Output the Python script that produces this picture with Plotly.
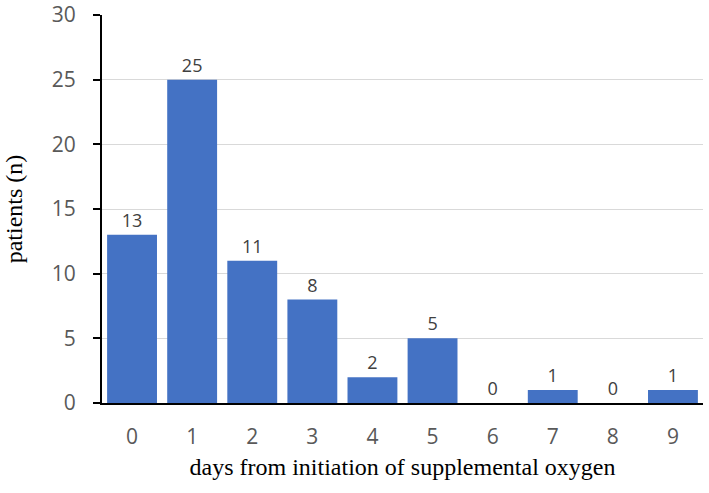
import plotly.graph_objects as go

days = ["0", "1", "2", "3", "4", "5", "6", "7", "8", "9"]
patients = [13, 25, 11, 8, 2, 5, 0, 1, 0, 1]
y_ticks = [0, 5, 10, 15, 20, 25, 30]

SANS = "Open Sans, Liberation Sans, sans-serif"
SERIF = "Liberation Serif, Times New Roman, serif"

fig = go.Figure(go.Bar(
    x=days, y=patients,
    marker=dict(color="#4472C4", line=dict(width=0)),
    text=[str(v) for v in patients],
    textposition="outside",
    textfont=dict(family=SANS, size=18, color="#404040"),
    cliponaxis=False,
))

fig.update_layout(
    width=709, height=493,
    margin=dict(l=102, r=6, t=15, b=90),
    plot_bgcolor="white", paper_bgcolor="white",
    bargap=0.17,
    showlegend=False,
    xaxis=dict(
        type="category", automargin=False,
        showline=True, linecolor="black", linewidth=2,
        ticks="", showgrid=False,
        tickfont=dict(family=SANS, size=21, color="#595959"),
        ticklabelstandoff=14,
        title=dict(text="days from initiation of supplemental oxygen",
                   font=dict(family=SERIF, size=24, color="black"),
                   standoff=9),
    ),
    yaxis=dict(
        range=[0, 30], tickvals=y_ticks, automargin=False,
        showline=True, linecolor="black", linewidth=2,
        ticks="outside", ticklen=7, tickwidth=2, tickcolor="black",
        showgrid=True, gridcolor="#D9D9D9", gridwidth=1,
        zeroline=False,
        tickfont=dict(family=SANS, size=21, color="#595959"),
        ticklabelstandoff=13,
        title=dict(text="patients (n)",
                   font=dict(family=SERIF, size=24, color="black"),
                   standoff=22),
    ),
)

fig.write_html("out.html",
               config={"displayModeBar": False},
               post_script="document.body.style.margin='0';document.body.style.overflow='hidden';")
